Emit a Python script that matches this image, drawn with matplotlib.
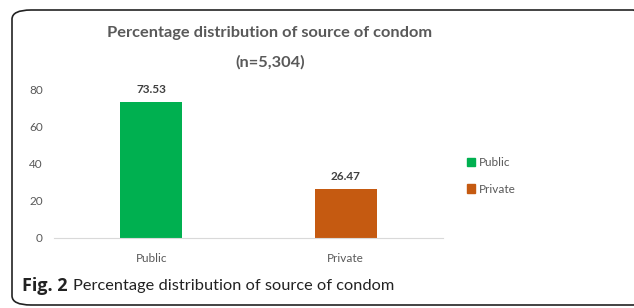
import matplotlib.pyplot as plt
from matplotlib.patches import FancyBboxPatch, Patch

categories = ['Public', 'Private']
values = [73.53, 26.47]
colors = ['#00B050', '#C55A11']
yticks = [0, 20, 40, 60, 80]

plt.rcParams['font.family'] = ['Lato', 'DejaVu Sans']

fig = plt.figure(figsize=(6.34, 3.08), dpi=100)

# rounded frame round the whole panel
frame = FancyBboxPatch((12 / 634, 3 / 308), 640 / 634, 295 / 308,
                       boxstyle='round,pad=0,rounding_size=0.03',
                       transform=fig.transFigure, fill=False,
                       edgecolor='#222222', linewidth=1.2)
fig.patches.append(frame)

ax = fig.add_axes([54 / 634, 1 - 238 / 308, 389 / 634, (238 - 80.7) / 308])
x = range(len(categories))
bars = ax.bar(x, values, width=0.32, color=colors)
for b, v in zip(bars, values):
    ax.text(b.get_x() + b.get_width() / 2, v + 4, f'{v:.2f}', ha='center', va='bottom',
            fontsize=8.5, fontweight='bold', color='#404040')

ax.set_xlim(-0.5, 1.5)
ax.set_ylim(0, 85)
ax.set_xticks(list(x))
ax.set_xticklabels(categories, fontsize=8.5, color='#595959')
ax.set_yticks(yticks)
ax.set_yticklabels([str(t) for t in yticks], fontsize=8.5, color='#595959')
ax.tick_params(length=0, pad=8, axis='y')
ax.tick_params(length=0, pad=11, axis='x')
for s in ['top', 'right', 'left']:
    ax.spines[s].set_visible(False)
ax.spines['bottom'].set_color('#D9D9D9')

fig.text(270 / 634, 1 - 33 / 308, 'Percentage distribution of source of condom', ha='center', va='center',
         fontsize=11.8, fontweight='bold', color='#595959')
fig.text(270 / 634, 1 - 62 / 308, '(n=5,304)', ha='center', va='center',
         fontsize=11.8, fontweight='bold', color='#595959')

handles = [Patch(color=c, label=l) for c, l in zip(colors, categories)]
fig.legend(handles=handles, loc='center left', bbox_to_anchor=(456 / 634, 1 - 176 / 308),
           frameon=False, fontsize=8.5, handlelength=0.7, handleheight=0.7, handletextpad=0.3,
           labelspacing=1.3, labelcolor='#595959')

fig.text(22 / 634, 1 - 286 / 308, 'Fig. 2', ha='left', va='center', fontsize=13,
         fontweight='bold', color='#222222', family=['Open Sans', 'DejaVu Sans'])
fig.text(73 / 634, 1 - 286 / 308, 'Percentage distribution of source of condom', ha='left',
         va='center', fontsize=11.8, color='#222222')

fig.savefig('out.png', dpi=100)
